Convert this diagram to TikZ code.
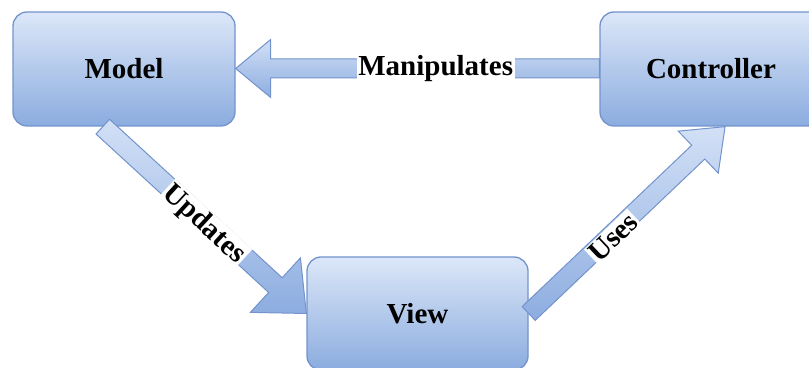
\documentclass[tikz,border=0pt]{standalone}
\usepackage{fontspec}
\setmainfont{Liberation Serif}
\usetikzlibrary{calc}
\definecolor{boxtop}{HTML}{DCE7F8}
\definecolor{boxbot}{HTML}{8BACDF}
\definecolor{edgeblue}{HTML}{7393CC}
\definecolor{arrtop}{HTML}{D2E0F6}
\definecolor{arrbot}{HTML}{8DADE0}
\tikzset{
  mvcbox/.style={draw=edgeblue, line width=1.3pt, rounded corners=14pt,
    top color=boxtop, bottom color=boxbot, minimum width=222pt, minimum height=114pt,
    font=\fontsize{29}{32}\selectfont\bfseries, text=black},
  arrfill/.style={draw=edgeblue, line width=1pt, top color=arrtop, bottom color=arrbot},
  arrlabel/.style={fill=white, inner sep=1.5pt, font=\fontsize{29}{32}\selectfont\bfseries, text=black}
}
\newcommand{\blockarrow}[5]{%
  \coordinate (hb) at ($(#2)!#5!(#1)$);
  \path[arrfill] ($(#1)!#3!90:(#2)$) -- ($(hb)!#3!-90:(#1)$) -- ($(hb)!#4!-90:(#1)$)
    -- (#2) -- ($(hb)!#4!90:(#1)$) -- ($(hb)!#3!90:(#1)$) -- ($(#1)!#3!-90:(#2)$) -- cycle;
}
\begin{document}
\begin{tikzpicture}[x=1pt,y=1pt]
\useasboundingbox (0,0) rectangle (809,367);
\clip (0,0) rectangle (809,367);
\node[mvcbox] (Model) at (124,298) {Model};
\node[mvcbox] (Controller) at (711,298) {Controller};
\node[mvcbox, minimum width=221pt, minimum height=113pt] (View) at (417.5,53.5) {View};
\coordinate (mS) at ($(Model.south west)!0.405!(Model.south east)$);
\coordinate (cS) at ($(Controller.south west)!0.563!(Controller.south east)$);
\coordinate (cW) at ($(Controller.west)+(0,0.5)$);
\coordinate (mE) at ($(Model.east)+(0,0.5)$);
\blockarrow{cW}{mE}{9.5pt}{29pt}{35pt}
\blockarrow{mS}{View.west}{10pt}{37pt}{42pt}
\blockarrow{View.east}{cS}{9.5pt}{29pt}{37pt}
\path (cW) -- (mE) node[arrlabel, pos=0.45] (lm) {Manipulates};
\path (mS) -- (View.west) node[arrlabel, pos=0.51, sloped, yshift=-4pt] (lu) {Updates};
\path (View.east) -- (cS) node[arrlabel, pos=0.42, sloped, yshift=-3pt] (ls) {Uses};
\end{tikzpicture}
\end{document}
